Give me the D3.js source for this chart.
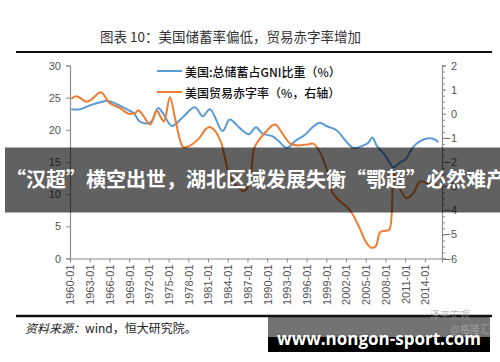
<!DOCTYPE html>
<html><head><meta charset="utf-8">
<script src="https://cdn.jsdelivr.net/npm/d3@7/dist/d3.min.js"></script>
<style>
html,body{margin:0;padding:0;background:#fff;}
svg{display:block;}
</style></head>
<body>
<svg id="c" width="500" height="362"></svg>
<script>
// ---- data ----
const title = "图表 10：美国储蓄率偏低，贸易赤字率增加";
const legendLabels = ["美国:总储蓄占GNI比重（%）", "美国贸易赤字率（%，右轴）"];
const xTickYears = [1960,1963,1966,1969,1972,1975,1978,1981,1984,1987,1990,1993,1996,1999,2002,2005,2008,2011,2014];
const leftTicks = [0,5,10,15,20,25,30];
const rightTicks = [-6,-5,-4,-3,-2,-1,0,1,2];

const savingsYear = [1960.2,1961.5,1963.0,1964.6,1965.8,1967.5,1969.0,1969.7,1970.6,1971.6,1972.4,1973.4,1974.2,1975.5,1977.2,1979.0,1980.2,1981.3,1983.2,1984.3,1985.8,1987.2,1988.3,1989.3,1990.8,1991.7,1993.0,1994.3,1995.7,1996.8,1998.0,1999.0,1999.8,2000.6,2003.1,2004.5,2005.4,2006.0,2006.7,2008.0,2009.2,2010.3,2011.0,2012.2,2013.2,2014.5,2015.5,2016.0];
const savingsValue = [23.2,23.2,23.8,24.3,24.5,23.8,23.0,22.6,21.3,21.0,21.3,23.4,22.5,20.6,22.0,23.5,22.1,23.2,19.8,21.6,20.3,19.3,20.4,19.4,19.0,18.3,17.2,18.3,19.2,20.3,21.1,20.6,20.3,19.9,17.2,17.5,18.0,18.8,17.5,16.0,14.2,15.0,15.4,17.3,18.2,18.7,18.5,18.1];

const tradeYear = [1960.2,1961.0,1962.5,1963.3,1964.7,1966.0,1967.5,1969.0,1970.0,1970.4,1971.2,1972.2,1973.2,1973.8,1974.3,1975.2,1976.0,1977.2,1977.8,1979.6,1980.6,1981.2,1982.0,1983.0,1984.0,1985.0,1986.5,1987.3,1988.0,1989.0,1990.0,1990.8,1991.3,1992.5,1993.5,1994.5,1996.0,1997.0,1998.0,1999.0,2000.0,2001.0,2002.6,2004.0,2005.0,2005.8,2006.5,2007.2,2008.0,2008.6,2009.3,2010.0,2011.2,2012.2,2013.3,2014.5,2016.0];
const tradeValue = [0.62,0.73,0.50,0.60,0.89,0.45,0.25,0.0,0.05,0.15,-0.10,-0.45,0.12,-0.14,-0.32,0.68,-0.20,-1.38,-1.38,-1.03,-0.65,-0.55,-0.69,-1.20,-2.30,-2.90,-3.20,-2.90,-1.44,-1.00,-0.69,-0.48,-0.45,-0.90,-1.24,-1.31,-1.28,-1.24,-1.58,-2.26,-3.30,-3.60,-4.00,-4.70,-5.30,-5.55,-5.50,-4.90,-4.85,-4.80,-2.50,-3.00,-3.50,-3.30,-2.80,-2.90,-3.00];

const overlayText = "“汉超”横空出世，湖北区域发展失衡“鄂超”必然难产";
const sourceLabel = "资料来源：";
const sourceText = "wind，恒大研究院。";
const siteText = "www.nongon-sport.com";

// ---- drawing ----
const svg = d3.select("#c");
const cjk = "'Noto Sans CJK SC','Noto Sans',sans-serif";
const latin = "'Liberation Sans',Arial,sans-serif";
const blue = "#5B9BD5", orange = "#ED7D31";

const x = d3.scaleLinear().domain([1960, 2016.6]).range([70, 442]);
const yL = d3.scaleLinear().domain([0, 30]).range([258.5, 65.5]);
const yR = d3.scaleLinear().domain([-6, 2]).range([258.5, 65.5]);

// title
svg.append("text").attr("x", 100).attr("y", 36).attr("dominant-baseline","central")
  .attr("font-family", cjk).attr("font-size", 13.5).attr("fill", "#333").text(title);
svg.append("line").attr("x1",16).attr("x2",492).attr("y1",52).attr("y2",52)
  .attr("stroke","#111").attr("stroke-width",2);

// axes
const axisColor = "#8c8c8c";
const gL = svg.append("g").attr("transform","translate(70,0)")
  .call(d3.axisLeft(yL).tickValues(leftTicks).tickSize(4).tickPadding(5));
const gR = svg.append("g").attr("transform","translate(442,0)")
  .call(d3.axisRight(yR).tickValues(rightTicks).tickSize(4).tickPadding(4));
const gRm = svg.append("g").attr("transform","translate(442,0)")
  .call(d3.axisRight(yR).tickValues(d3.range(-6,2.001,0.25)).tickSize(3).tickFormat(""));
gRm.select(".domain").remove();
const gX = svg.append("g").attr("transform","translate(0,258.5)")
  .call(d3.axisBottom(x).tickValues(xTickYears).tickSize(4).tickPadding(3).tickFormat(d => d + "-01"));

[gL,gR,gRm,gX].forEach(g => {
  g.selectAll(".domain").attr("stroke", axisColor).attr("stroke-width",1.2);
  g.selectAll(".tick line").attr("stroke", axisColor);
  g.selectAll("text").attr("font-family", latin).attr("font-size", 11).attr("fill","#555");
});
gR.selectAll("text").attr("text-anchor","end").attr("x", 15);
gX.selectAll("text").attr("transform","rotate(-90)").attr("text-anchor","end")
  .attr("x",-6).attr("y",0).attr("dy","0.35em");

// lines
const lineL = d3.line().x((d,i)=>x(savingsYear[i])).y(d=>yL(d)).curve(d3.curveCatmullRom.alpha(0.5));
const lineR = d3.line().x((d,i)=>x(tradeYear[i])).y(d=>yR(d)).curve(d3.curveCatmullRom.alpha(0.5));
svg.append("path").attr("d", lineL(savingsValue)).attr("fill","none").attr("stroke",blue).attr("stroke-width",2);
svg.append("path").attr("d", lineR(tradeValue)).attr("fill","none").attr("stroke",orange).attr("stroke-width",2);

// legend
const lg = svg.append("g");
[[blue,71],[orange,92]].forEach(([c,yy],i)=>{
  lg.append("line").attr("x1",157).attr("x2",182).attr("y1",yy).attr("y2",yy).attr("stroke",c).attr("stroke-width",2);
  lg.append("text").attr("x",185).attr("y",yy).attr("dominant-baseline","central")
    .attr("font-family",cjk).attr("font-size",12).attr("font-weight",500).attr("fill","#111").text(legendLabels[i]);
});

// bottom rule & source
svg.append("line").attr("x1",16).attr("x2",492).attr("y1",316).attr("y2",316)
  .attr("stroke","#111").attr("stroke-width",2.5);
const src = svg.append("text").attr("x",25).attr("y",327).attr("dominant-baseline","central")
  .attr("font-family",cjk).attr("font-size",12).attr("fill","#222");
src.append("tspan").attr("font-style","italic").text(sourceLabel);
src.append("tspan").text(sourceText);

// overlay band
svg.append("rect").attr("x",5).attr("y",147.5).attr("width",495).attr("height",65)
  .attr("fill","rgba(0,0,0,0.62)");
svg.append("text").attr("x",6).attr("y",178).attr("dominant-baseline","central")
  .attr("font-family",cjk).attr("font-size",20).attr("font-weight",700).attr("fill","#fff").text(overlayText);

// watermark box
svg.append("rect").attr("x",268).attr("y",317).attr("width",222).attr("height",20).attr("fill","rgba(0,0,0,0.55)");
svg.append("rect").attr("x",268).attr("y",337).attr("width",222).attr("height",15).attr("fill","#000");
svg.append("text").attr("x",430).attr("y",314).attr("dominant-baseline","central")
  .attr("font-family",cjk).attr("font-size",10).attr("fill","rgba(150,150,150,0.7)").text("泽平宏观");
svg.append("text").attr("x",490).attr("y",328).attr("text-anchor","end").attr("dominant-baseline","central")
  .attr("font-family",cjk).attr("font-size",10).attr("fill","rgba(190,190,190,0.6)").text("@格隆汇");
svg.append("text").attr("x",379).attr("y",338).attr("text-anchor","middle").attr("dominant-baseline","central")
  .attr("font-family","'Open Sans','DejaVu Sans',sans-serif").attr("font-size",17).attr("font-weight",700)
  .attr("fill","#fff").text(siteText);
</script>
</body></html>
